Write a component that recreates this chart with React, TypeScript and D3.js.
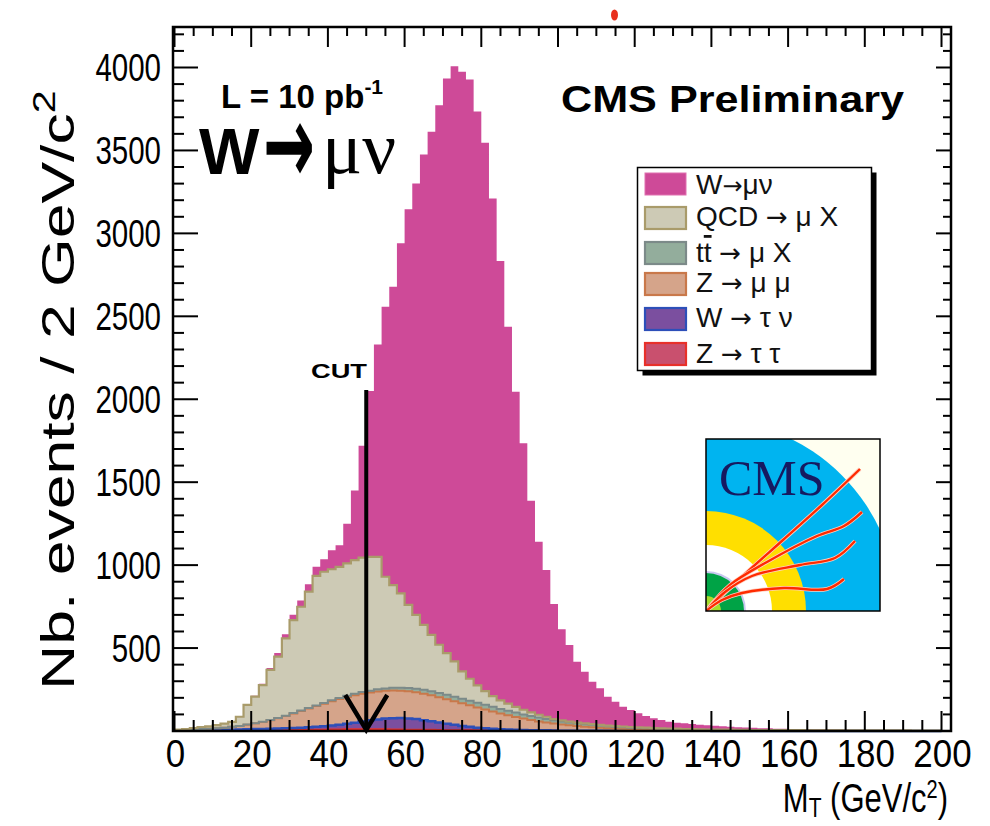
import React from "react";
import * as d3 from "d3";

// ---------- data (events per 2 GeV bin, bins 0-2, 2-4, ... 198-200 GeV) ----------
const binLow = d3.range(0, 200, 2);

const zTauTau = [
  0, 0, 1, 1, 1, 2, 2, 2, 3, 3,
  4, 4, 5, 5, 6, 6, 7, 7, 8, 8,
  9, 9, 10, 10, 10, 10, 10, 10, 9, 9,
  8, 8, 7, 7, 6, 5, 5, 4, 4, 3,
  3, 2, 2, 2, 1, 1, 1, 1, 1, 1,
  0, 0, 0, 0, 0, 0, 0, 0, 0, 0,
  0, 0, 0, 0, 0, 0, 0, 0, 0, 0,
  0, 0, 0, 0, 0, 0, 0, 0, 0, 0,
  0, 0, 0, 0, 0, 0, 0, 0, 0, 0,
  0, 0, 0, 0, 0, 0, 0, 0, 0, 0,
];
const wTauNu = [
  2, 3, 3, 4, 4, 5, 5, 6, 6, 7,
  8, 8, 9, 10, 11, 12, 13, 15, 17, 20,
  24, 28, 33, 40, 48, 55, 60, 65, 68, 70,
  68, 64, 58, 52, 45, 38, 32, 26, 21, 17,
  14, 11, 9, 7, 6, 5, 4, 3, 3, 2,
  2, 2, 2, 1, 1, 1, 1, 1, 1, 1,
  1, 1, 1, 1, 1, 1, 1, 1, 1, 1,
  0, 0, 0, 0, 0, 0, 0, 0, 0, 0,
  0, 0, 0, 0, 0, 0, 0, 0, 0, 0,
  0, 0, 0, 0, 0, 0, 0, 0, 0, 0,
];
const zMuMu = [
  1, 3, 5, 7, 9, 9, 13, 17, 21, 28,
  34, 43, 51, 62, 73, 87, 100, 113, 125, 137,
  147, 156, 162, 166, 167, 167, 168, 167, 167, 164,
  163, 161, 160, 156, 153, 149, 143, 137, 130, 122,
  113, 105, 95, 86, 78, 69, 61, 54, 47, 42,
  37, 32, 28, 25, 22, 19, 16, 14, 12, 10,
  9, 8, 7, 6, 5, 5, 4, 4, 3, 3,
  4, 3, 3, 3, 3, 2, 2, 2, 2, 2,
  2, 2, 1, 1, 1, 1, 1, 1, 1, 1,
  1, 1, 1, 1, 1, 1, 0, 0, 0, 0,
];
const ttbar = [
  0, 0, 0, 0, 0, 0, 0, 0, 0, 1,
  1, 1, 2, 2, 2, 3, 3, 3, 4, 4,
  5, 6, 7, 8, 10, 11, 13, 14, 16, 18,
  20, 21, 23, 24, 25, 26, 27, 27, 28, 28,
  28, 28, 27, 27, 26, 25, 24, 23, 21, 20,
  19, 18, 16, 15, 14, 13, 12, 11, 10, 9,
  8, 8, 7, 7, 6, 6, 5, 5, 4, 4,
  4, 3, 3, 3, 3, 2, 2, 2, 2, 2,
  2, 2, 2, 1, 1, 1, 1, 1, 1, 1,
  1, 1, 1, 1, 1, 0, 0, 0, 0, 0,
];
const qcdMuX = [
  5, 6, 9, 12, 14, 20, 24, 30, 56, 118,
  160, 221, 301, 369, 467, 561, 626, 702, 781, 791,
  790, 791, 798, 806, 810, 807, 799, 674, 620, 569,
  501, 446, 392, 341, 291, 252, 213, 166, 132, 105,
  82, 64, 52, 43, 34, 28, 22, 17, 14, 7,
  6, 5, 5, 5, 4, 4, 4, 4, 4, 4,
  4, 3, 3, 2, 3, 2, 2, 1, 2, 1,
  1, 2, 2, 1, 1, 2, 2, 1, 1, 1,
  1, 1, 1, 2, 2, 2, 2, 1, 1, 1,
  1, 1, 1, 1, 1, 2, 2, 2, 2, 2,
];
const wMuNu = [
  0, 0, 0, 0, 1, 1, 1, 2, 2, 3,
  5, 8, 12, 22, 25, 32, 38, 45, 55, 75,
  115, 130, 240, 420, 675, 1000, 1280, 1628, 1798, 2110,
  2386, 2601, 2836, 3033, 3253, 3464, 3588, 3614, 3613, 3460,
  3306, 3001, 2648, 2272, 1900, 1606, 1276, 1043, 884, 693,
  549, 461, 367, 311, 256, 220, 174, 147, 119, 103,
  85, 70, 59, 50, 41, 36, 34, 31, 28, 25,
  22, 20, 17, 16, 14, 13, 11, 11, 9, 8,
  7, 6, 6, 5, 5, 4, 3, 4, 3, 3,
  2, 2, 1, 1, 1, 1, 1, 1, 1, 1,
];

const xTickValues = [0, 20, 40, 60, 80, 100, 120, 140, 160, 180, 200];
const yTickValues = [500, 1000, 1500, 2000, 2500, 3000, 3500, 4000];
const cutValue = 50;

const seriesKeys = ["ztt", "wtn", "zmm", "tt", "qcd", "wmn"];
const legendKeys = ["wmn", "qcd", "tt", "zmm", "wtn", "ztt"];
// [before arrow, after arrow]
const legendLabels: [string, string][] = [
  ["W", "μν"],
  ["QCD ", " μ X"],
  ["tt ", " μ X"],
  ["Z ", " μ μ"],
  ["W ", " τ ν"],
  ["Z ", " τ τ"],
];

const styles: Record<string, { fill: string; stroke: string; sw: number }> = {
  wmn: { fill: "#ce4a98", stroke: "#ce4a98", sw: 0 },
  qcd: { fill: "#cdcab5", stroke: "#a99b6a", sw: 2.2 },
  tt: { fill: "#93ad9c", stroke: "#7c8a89", sw: 2 },
  zmm: { fill: "#d5a48a", stroke: "#c9784a", sw: 2 },
  wtn: { fill: "#7b4f9f", stroke: "#2d4fb9", sw: 2.5 },
  ztt: { fill: "#c9506e", stroke: "#e8302a", sw: 2 },
};

const FONT = "'Liberation Sans', Arial, Helvetica, sans-serif";
const SERIF = "'Liberation Serif', 'Times New Roman', serif";
const ARROWFONT = "'DejaVu Sans', sans-serif";

const F = { left: 173, right: 951, top: 27, bottom: 731 };

export default function App() {
  const x = d3.scaleLinear().domain([0, 200]).range([174.5, 941.5]);
  const y = d3.scaleLinear().domain([0, 4000]).range([731, 67.5]);

  const rows = binLow.map((b, i) => ({
    b,
    ztt: zTauTau[i],
    wtn: wTauNu[i],
    zmm: zMuMu[i],
    tt: ttbar[i],
    qcd: qcdMuX[i],
    wmn: wMuNu[i],
  }));
  const stacked = d3.stack<any>().keys(seriesKeys)(rows);

  const area = d3
    .area<any>()
    .x((d) => x(d.x))
    .y0((d) => y(d.y0))
    .y1((d) => y(d.y1))
    .curve(d3.curveStepAfter);
  const line = d3
    .line<any>()
    .x((d) => x(d.x))
    .y((d) => y(d.y1))
    .curve(d3.curveStepAfter);

  const layers = stacked.map((s) => {
    const pts = s.map((p, i) => ({ x: binLow[i], y0: p[0], y1: p[1] }));
    const last = pts[pts.length - 1];
    pts.push({ x: 200, y0: last.y0, y1: last.y1 });
    return { key: s.key, pts };
  });

  const xMinor = d3.range(0, 201, 5).filter((v) => v % 20 !== 0);
  const yMinor = d3.range(0, 4300, 100).filter((v) => v % 500 !== 0 && y(v) > F.top);
  const yMajor = d3.range(0, 4300, 500).filter((v) => y(v) > F.top);

  // CMS logo geometry
  const L = { x: 706, y: 439, w: 174, h: 172 };
  const ox = L.x, oy = L.y + L.h;
  const tracks = [
    [[ox, oy], [745, 574], [783, 540], [822, 505], [860, 469]],
    [[ox, oy], [730, 585], [767, 562], [817, 536], [844, 526], [862, 512]],
    [[ox, oy], [725, 592], [752, 576], [800, 565], [835, 558], [855, 541]],
    [[ox, oy], [722, 600], [742, 593], [784, 588], [827, 589], [844, 579]],
  ];
  const trackLine = d3.line().curve(d3.curveCatmullRom.alpha(0.5));
  const arcPath = (r: number) =>
    `M${ox},${oy} L${ox},${oy - r} A${r},${r} 0 0 1 ${ox + r},${oy} Z`;

  const cx = x(cutValue);
  const legTops = [172, 206, 241, 272, 307, 342];
  const legBases = [194, 226, 262, 292, 327, 363];

  return (
    <svg
      width={990}
      height={826}
      style={{ position: "absolute", left: 0, top: 0, background: "#fff" }}
      fontFamily={FONT}
    >
      <rect x={0} y={0} width={990} height={826} fill="#ffffff" />
      <ellipse cx={614.5} cy={15} rx={3.5} ry={5.5} fill="#e8301e" />

      {/* histogram stack */}
      <g>
        {layers.map((l) => (
          <path key={"a" + l.key} d={area(l.pts) || ""} fill={styles[l.key].fill} stroke="none" />
        ))}
        {layers
          .filter((l) => styles[l.key].sw > 0)
          .map((l) => (
            <path
              key={"l" + l.key}
              d={line(l.pts) || ""}
              fill="none"
              stroke={styles[l.key].stroke}
              strokeWidth={styles[l.key].sw}
            />
          ))}
      </g>

      {/* frame & ticks */}
      <g stroke="#000" strokeWidth={2}>
        {xTickValues.map((v) => (
          <g key={"xt" + v}>
            <line x1={x(v)} x2={x(v)} y1={F.bottom} y2={F.bottom - 20} />
            <line x1={x(v)} x2={x(v)} y1={F.top} y2={F.top + 20} />
          </g>
        ))}
        {xMinor.map((v) => (
          <g key={"xm" + v}>
            <line x1={x(v)} x2={x(v)} y1={F.bottom} y2={F.bottom - 11} />
            <line x1={x(v)} x2={x(v)} y1={F.top} y2={F.top + 9} />
          </g>
        ))}
        {yMajor.map((v) => (
          <g key={"ym" + v}>
            <line x1={F.left} x2={F.left + 25} y1={y(v)} y2={y(v)} />
            <line x1={F.right} x2={F.right - 15} y1={y(v)} y2={y(v)} />
          </g>
        ))}
        {yMinor.map((v) => (
          <g key={"yn" + v}>
            <line x1={F.left} x2={F.left + 11} y1={y(v)} y2={y(v)} />
            <line x1={F.right} x2={F.right - 8} y1={y(v)} y2={y(v)} />
          </g>
        ))}
        <rect
          x={F.left}
          y={F.top}
          width={F.right - F.left}
          height={F.bottom - F.top}
          fill="none"
          strokeWidth={2.5}
        />
      </g>

      {/* tick labels */}
      {yTickValues.map((v) => (
        <text
          key={"yl" + v}
          transform={`translate(161,${y(v) + 13.5}) scale(1,1.3)`}
          textAnchor="end"
          fontSize={29.5}
          fill="#000"
        >
          {String(v)}
        </text>
      ))}
      {xTickValues.map((v) => (
        <text
          key={"xl" + v}
          transform={`translate(${x(v) + 1},767) scale(0.97,1.1)`}
          textAnchor="middle"
          fontSize={36}
          fill="#000"
        >
          {String(v)}
        </text>
      ))}

      {/* axis titles */}
      <text transform="translate(948,812) scale(1,1.3)" textAnchor="end" fontSize={31} fill="#000">
        M<tspan fontSize={21} dy={4}>T</tspan>
        <tspan dy={-4}> (GeV/c</tspan>
        <tspan fontSize={20} dy={-11}>2</tspan>
        <tspan dy={11}>)</tspan>
      </text>
      <text transform="translate(74,690) rotate(-90) scale(1.33,1)" fontSize={47} fill="#000">
        Nb. events / 2 GeV/c<tspan fontSize={31} dy={-19}>2</tspan>
      </text>

      {/* annotations */}
      <text x={561} y={112} fontSize={37.3} fontWeight="bold" textLength={343} lengthAdjust="spacingAndGlyphs">
        CMS Preliminary
      </text>
      <text x={221} y={108} fontSize={33} fontWeight="bold">
        L = 10 pb<tspan fontSize={21} dy={-14}>-1</tspan>
      </text>
      <text x={199} y={174} fontSize={64} fontWeight="bold">
        W
      </text>
      <text
        transform="translate(263,183) scale(1,1.8)"
        fontSize={62}
        fontWeight="bold"
        fontFamily={ARROWFONT}
      >
        →
      </text>
      <text x={322} y={173} fontSize={75} fontFamily={SERIF}>
        μν
      </text>

      {/* cut arrow */}
      <text x={311} y={378} fontSize={21} fontWeight="bold" textLength={56} lengthAdjust="spacingAndGlyphs">
        CUT
      </text>
      <g stroke="#000" fill="none" strokeLinecap="butt">
        <line x1={cx} x2={cx} y1={390} y2={729} strokeWidth={4} />
        <polyline points={`${cx - 21},695 ${cx},730 ${cx + 21},695`} strokeWidth={4.5} strokeLinejoin="miter" />
      </g>

      {/* legend */}
      <g>
        <rect x={642.5} y={172.5} width={234} height={203} fill="#000" />
        <rect x={637.5} y={167.5} width={234} height={203} fill="#fff" stroke="#000" strokeWidth={1.5} />
        {legendKeys.map((k, i) => {
          const st = styles[k];
          const [a, b] = legendLabels[i];
          return (
            <g key={"lg" + k}>
              <rect
                x={645}
                y={legTops[i] + 1}
                width={41}
                height={22}
                fill={st.fill}
                stroke={k === "wmn" ? "#e070b0" : st.stroke}
                strokeWidth={k === "wmn" ? 1 : 2.2}
              />
              <text x={696} y={legBases[i]} fontSize={28} fill="#111">
                {k === "tt" ? (
                  <>
                    t<tspan style={{ textDecoration: "overline" }}>t</tspan>{" "}
                  </>
                ) : (
                  a
                )}
                <tspan fontFamily={ARROWFONT} fontSize={k === "wmn" ? 24 : 26}>→</tspan>
                {b}
              </text>
            </g>
          );
        })}
      </g>

      {/* CMS logo */}
      <defs>
        <clipPath id="logoClip">
          <rect x={L.x} y={L.y} width={L.w} height={L.h} />
        </clipPath>
      </defs>
      <g clipPath="url(#logoClip)">
        <rect x={L.x} y={L.y} width={L.w} height={L.h} fill="#fffff0" />
        <path d={arcPath(192)} fill="#00b4f0" />
        <path d={arcPath(100)} fill="#ffdf00" />
        <path d={arcPath(66)} fill="#ffffff" />
        <path d={arcPath(40)} fill="#c8c8f0" />
        <path d={arcPath(38)} fill="#00a346" />
        <path d={arcPath(15)} fill="#a6dc2c" />
        <text x={719} y={495} fontSize={50} fontFamily={SERIF} fill="#161a60">
          CMS
        </text>
        {tracks.map((t, i) => (
          <g key={"tr" + i}>
            <path d={trackLine(t as any) || ""} fill="none" stroke="#ffd0c0" strokeWidth={4} />
            <path d={trackLine(t as any) || ""} fill="none" stroke="#ff2a00" strokeWidth={2.4} />
          </g>
        ))}
      </g>
      <rect x={L.x} y={L.y} width={L.w} height={L.h} fill="none" stroke="#000" strokeWidth={1.5} />
    </svg>
  );
}
